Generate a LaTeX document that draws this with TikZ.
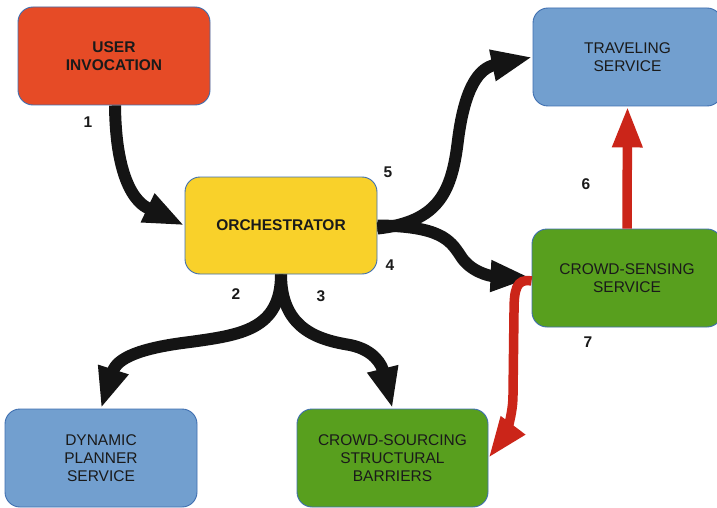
\documentclass[tikz,border=0pt]{standalone}
\usepackage{fontspec}
\setmainfont{Liberation Sans}
\usetikzlibrary{arrows.meta}
\definecolor{cred}{HTML}{E64B26}
\definecolor{cyellow}{HTML}{F9D12A}
\definecolor{cgreen}{HTML}{589F1E}
\definecolor{cblue}{HTML}{729FCF}
\definecolor{cborder}{HTML}{3F6FB0}
\definecolor{cblack}{HTML}{141414}
\definecolor{carrowred}{HTML}{CB2519}
\definecolor{ctext}{HTML}{1A1A1A}
\tikzset{
  box/.style={draw=cborder, line width=0.9pt, rounded corners=15pt, minimum width=192pt, minimum height=98pt,
    align=center, text=ctext, font=\fontsize{15.5}{18}\selectfont, inner sep=0pt},
  blk/.style={draw=cblack, line width=12pt, -{Triangle[length=41pt,width=29pt]}, fill=none},
  rd/.style={draw=carrowred, line width=9.5pt, -{Triangle[length=41pt,width=28pt]}},
  num/.style={font=\fontsize{15.5}{18}\selectfont\bfseries, text=ctext}
}
\begin{document}
\begin{tikzpicture}[x=1pt,y=-1pt]
\useasboundingbox (0,0) rectangle (717,508);
\clip (0,0) rectangle (717,508);
\fill[white] (0,0) rectangle (717,508);
\node[box, fill=cred, font=\fontsize{15.5}{18}\selectfont\bfseries] (user) at (114,56) {USER\\INVOCATION};
\node[box, fill=cyellow, minimum height=97pt, font=\fontsize{15.5}{18}\selectfont\bfseries] (orch) at (281,225.5) {ORCHESTRATOR};
\node[box, fill=cblue, minimum width=189pt] (trav) at (627.5,57) {TRAVELING\\SERVICE};
\node[box, fill=cgreen, minimum width=190pt] (cs) at (627,278) {CROWD-SENSING\\SERVICE};
\node[box, fill=cblue] (dyn) at (101,458) {DYNAMIC\\PLANNER\\SERVICE};
\node[box, fill=cgreen, minimum width=191pt] (csb) at (392.5,458) {CROWD-SOURCING\\STRUCTURAL\\BARRIERS};

% black arrows
\draw[blk] ([xshift=1pt]user.south) .. controls (116,200) and (148,208) .. (orch.west);
\draw[blk] ([yshift=-3pt]orch.east) .. controls (440,222) and (452,190) .. (458,140)
   .. controls (465,85) and (480,68) .. (trav.west);
\draw[blk] (orch.east) .. controls (440,226) and (450,240) .. (460,255)
   .. controls (470,272) and (490,276) .. (cs.west);
\draw[blk] (orch.south) .. controls (281,330) and (240,335) .. (190,342)
   .. controls (140,348) and (117,358) .. (dyn.north);
\draw[blk] (orch.south) .. controls (281,330) and (320,340) .. (350,345)
   .. controls (375,350) and (382,366) .. (csb.north);

% red arrows
\draw[rd] (cs.north) -- (trav.south);
\draw[rd] ([yshift=-3pt]cs.west) .. controls (516,278) and (514,290) .. (514,312) -- (513,395)
   .. controls (513,420) and (502,440) .. (csb.east);

% labels
\node[num] (n1) at (88,122) {1};
\node[num] (n5) at (388,172) {5};
\node[num] (n4) at (390,265) {4};
\node[num] (n2) at (236,294) {2};
\node[num] (n3) at (321,296) {3};
\node[num] (n6) at (586,184) {6};
\node[num] (n7) at (588,342) {7};
\end{tikzpicture}
\end{document}
